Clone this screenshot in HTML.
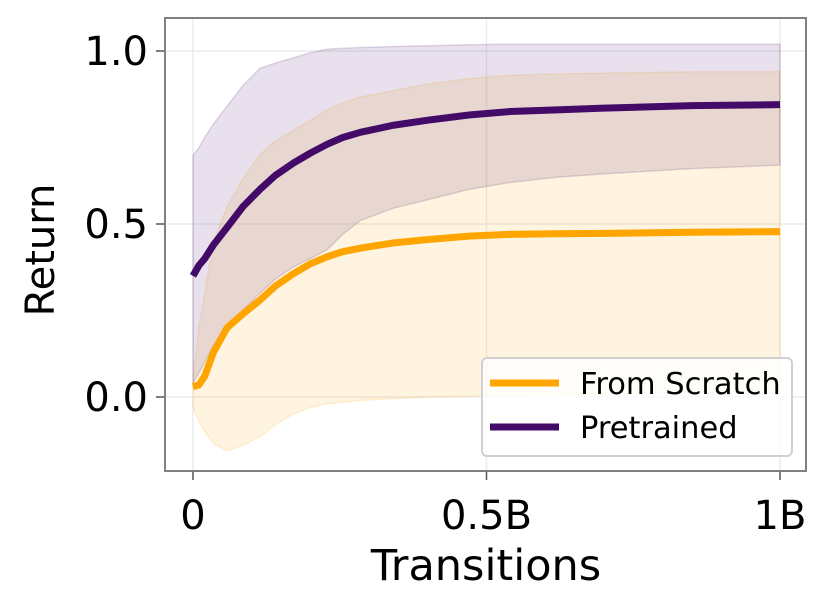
<!DOCTYPE html>
<html><head><meta charset="utf-8"><style>
html,body{margin:0;padding:0;background:#fff;width:830px;height:610px;overflow:hidden}
text{font-family:"DejaVu Sans","Liberation Sans",sans-serif}
</style></head><body>
<svg id="chart" width="830" height="610"></svg>
<script>
const xs = [0,0.01,0.02,0.035,0.058,0.085,0.114,0.14,0.17,0.2,0.228,0.255,0.285,0.34,0.4,0.47,0.54,0.62,0.7,0.85,1.0];
const scratchMean = [0.03,0.035,0.06,0.13,0.20,0.24,0.28,0.32,0.355,0.385,0.405,0.42,0.43,0.445,0.455,0.465,0.47,0.472,0.473,0.476,0.478];
const scratchUpper = [0.05,0.2,0.3,0.45,0.55,0.63,0.70,0.74,0.77,0.80,0.83,0.85,0.867,0.885,0.905,0.92,0.93,0.934,0.936,0.94,0.94];
const scratchLower = [-0.03,-0.07,-0.1,-0.135,-0.155,-0.14,-0.115,-0.08,-0.05,-0.03,-0.02,-0.015,-0.01,-0.005,0.0,0.003,0.005,0.007,0.008,0.01,0.01];
const preMean = [0.35,0.38,0.40,0.44,0.49,0.55,0.60,0.64,0.675,0.705,0.73,0.75,0.765,0.785,0.80,0.815,0.825,0.83,0.835,0.842,0.845];
const preUpper = [0.70,0.72,0.75,0.79,0.84,0.90,0.95,0.965,0.98,0.995,1.005,1.008,1.01,1.013,1.015,1.018,1.02,1.02,1.02,1.02,1.02];
const preLower = [0.04,0.07,0.10,0.15,0.19,0.25,0.30,0.34,0.375,0.40,0.425,0.47,0.51,0.545,0.57,0.60,0.62,0.635,0.645,0.66,0.67];
const xTicks = [0,0.5,1];
const xTickLabels = ["0","0.5B","1B"];
const yTicks = [0,0.5,1];
const yTickLabels = ["0.0","0.5","1.0"];

const svg = document.getElementById('chart');
const NS = 'http://www.w3.org/2000/svg';
const L=165,R=806,T=18,B=471;
const X = f => 193 + 587*f;
const Y = v => 397 - 346*v;
function mk(tag, attrs, parent){const e=document.createElementNS(NS,tag);for(const k in attrs)e.setAttribute(k,attrs[k]);(parent||svg).appendChild(e);return e;}

xTicks.forEach((t,i)=>{
  const g=mk('line',{x1:X(t),x2:X(t),y1:T,y2:B,stroke:'#ebebeb','stroke-width':1.5});
  
  
  const tk=mk('line',{x1:X(t),x2:X(t),y1:B,y2:B+9,stroke:'#555','stroke-width':1.5});
  
  
  const tx=mk('text',{x:X(t),y:B+58,'text-anchor':'middle','font-size':40,fill:'#000'});
  tx.textContent=xTickLabels[i];
  
  
});
yTicks.forEach((t,i)=>{
  const g=mk('line',{x1:L,x2:R,y1:Y(t),y2:Y(t),stroke:'#ebebeb','stroke-width':1.5});
  
  
  const tk=mk('line',{x1:L-9,x2:L,y1:Y(t),y2:Y(t),stroke:'#555','stroke-width':1.5});
  
  
  const tx=mk('text',{x:L-17,y:Y(t)+14,'text-anchor':'end','font-size':40,fill:'#000'});
  tx.textContent=yTickLabels[i];
  
  
});

function band(up,lo,fill,stroke,name){
  let d='M'+xs.map((f,i)=>X(f)+','+Y(up[i])).join(' L');
  d+=' L'+xs.slice().reverse().map((f,j)=>X(f)+','+Y(lo[xs.length-1-j])).join(' L')+' Z';
  const p=mk('path',{d:d,fill:fill,stroke:stroke,'stroke-width':1.5,'stroke-linejoin':'round'});
  
  
}
function line(v,color,name){
  const d='M'+xs.map((f,i)=>X(f)+','+Y(v[i])).join(' L');
  const p=mk('path',{d:d,fill:'none',stroke:color,'stroke-width':7,'stroke-linejoin':'round'});
  
  
}
band(scratchUpper,scratchLower,'rgba(255,165,0,0.12)','rgba(255,165,0,0.15)','scratch-band');
band(preUpper,preLower,'rgba(68,12,104,0.12)','rgba(68,12,104,0.15)','pretrained-band');
line(scratchMean,'#ffa500','scratch-line');
line(preMean,'#440a68','pretrained-line');

const fr=mk('rect',{x:L,y:T,width:R-L,height:B-T,fill:'none',stroke:'#808080','stroke-width':2});



const xl=mk('text',{x:486,y:580,'text-anchor':'middle','font-size':43,fill:'#000'});
xl.textContent='Transitions';


const yl=mk('text',{x:0,y:0,'text-anchor':'middle','font-size':40,fill:'#000',transform:'translate(54,250) rotate(-90)'});
yl.textContent='Return';



const lg=mk('g',{});


mk('rect',{x:482,y:358,width:310,height:98,rx:5,fill:'rgba(255,255,255,0.8)',stroke:'#d0d0d0','stroke-width':2},lg);
[['From Scratch','#ffa500',383],['Pretrained','#440a68',427]].forEach(([t,c,y])=>{
  const ln=mk('line',{x1:490,x2:559,y1:y,y2:y,stroke:c,'stroke-width':7},lg);
  
  
  const tx=mk('text',{x:580,y:y+11,'font-size':30.5,fill:'#000'},lg);
  tx.textContent=t;
  
  
});
</script>
</body></html>
